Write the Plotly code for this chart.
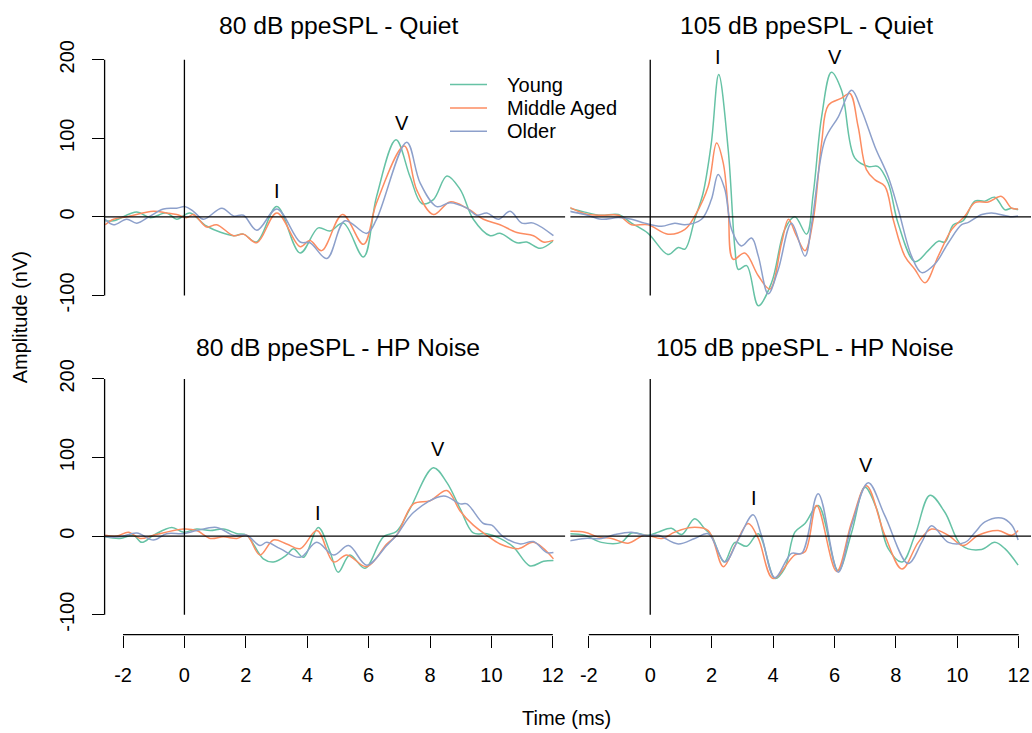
import plotly.graph_objects as go

# ---------------- data ----------------
groups = ["Young", "Middle Aged", "Older"]
colors = ["#66C2A5", "#FC8D62", "#8DA0CB"]
panel_titles = ["80 dB ppeSPL - Quiet", "105 dB ppeSPL - Quiet",
                "80 dB ppeSPL - HP Noise", "105 dB ppeSPL - HP Noise"]
x_ticks = [-2, 0, 2, 4, 6, 8, 10, 12]
x_tick_labels = ["-2", "0", "2", "4", "6", "8", "10", "12"]
y_ticks = [-100, 0, 100, 200]
y_tick_labels = ["-100", "0", "100", "200"]

# Panel 1: 80 dB Quiet
q80_young_t = [-2.58,-2.31,-1.55,-1.12,-0.58,-0.25,0.18,0.73,1.6,1.92,2.35,3.01,3.77,4.36,4.74,5.18,5.83,6.26,6.89,7.35,7.73,8.11,8.55,8.98,9.41,9.96,10.28,10.83,11.15,11.59,12.0]
q80_young_v = [-5,-5,6,-1,5,-3,5,-12,-24,-22,-32,13,-46,-14,-18,-8,-51,26,98,51,17,22,52,35,-3,-24,-21,-33,-32,-40,-31]
q80_middle_t = [-2.58,-2.31,-1.88,-1.01,-0.58,-0.25,0.08,0.29,0.73,1.05,1.6,1.92,2.36,3.01,3.77,4.09,4.47,5.15,5.83,6.26,7.16,7.57,8.11,8.65,9.2,9.74,10.28,10.83,11.37,11.69,12.02]
q80_middle_v = [-10,-3,0,7,5,3,-1,3,-13,-10,-24,-22,-33,5,-38,-30,-43,3,-35,18,90,34,3,19,11,-3,-10,-20,-24,-32,-30]
q80_older_t = [-2.58,-2.31,-1.88,-1.55,-1.12,-0.68,-0.25,0.02,0.29,0.62,1.22,1.6,1.92,2.36,3.01,3.77,4.09,4.64,5.23,5.94,6.26,7.24,7.68,8.22,8.65,9.2,9.52,9.85,10.23,10.61,10.99,11.37,12.02]
q80_older_v = [-3,-10,-3,-8,1,10,11,13,7,-3,11,1,2,-17,10,-32,-33,-53,-5,-21,-3,95,43,13,18,11,2,5,-3,7,-8,-8,-24]

# Panel 2: 105 dB Quiet
q105_young_t = [-2.62,-2.13,-1.59,-1.04,-0.61,-0.07,0.58,0.91,1.13,1.45,1.72,1.99,2.23,2.54,2.76,2.87,3.14,3.52,3.95,4.38,4.71,5.09,5.31,5.58,5.9,6.23,6.66,7.1,7.42,7.75,8.07,8.62,9.05,9.38,9.6,9.87,10.19,10.57,10.9,11.22,11.55,11.77,11.98]
q105_young_v = [11,6,2,3,-8,-21,-48,-39,-41,-3,30,94,181,85,-41,-67,-62,-113,-84,-16,0,-22,30,127,184,161,75,64,64,43,-8,-57,-43,-31,-32,-10,-5,20,20,25,9,11,9]
q105_middle_t = [-2.62,-2.13,-1.59,-1.04,-0.61,-0.07,0.58,1.13,1.45,1.89,2.16,2.38,2.54,2.70,3.08,3.52,3.9,4.28,4.5,4.76,5.04,5.31,5.58,5.8,6.23,6.5,6.77,7.04,7.32,7.64,7.91,8.29,8.62,8.95,9.38,9.82,10.25,10.57,11.01,11.44,11.77,11.98]
q105_middle_v = [12,4,2,2,-10,-10,-22,-16,1,39,94,68,9,-54,-46,-75,-92,-33,-3,-24,-43,-3,94,142,151,157,115,60,47,39,-3,-50,-67,-84,-50,-16,1,18,19,26,11,10]
q105_older_t = [-2.62,-2.13,-1.59,-1.04,-0.61,-0.18,0.37,0.8,1.13,1.67,1.99,2.21,2.43,2.65,2.97,3.3,3.52,3.84,4.17,4.6,5.04,5.26,5.69,6.12,6.56,6.88,7.32,7.75,8.08,8.51,8.84,9.27,9.71,10.14,10.36,10.8,11.12,11.77,11.98]
q105_older_v = [7,3,-3,-1,-3,-8,-12,-8,-10,-3,22,54,35,-16,-37,-27,-50,-98,-67,-8,-50,-8,98,127,161,136,89,51,9,-50,-71,-60,-33,-10,-7,3,5,0,1]

# Panel 3: 80 dB HP Noise
hp80_young_t = [-2.58,-2.1,-1.66,-1.39,-1.01,-0.41,-0.03,0.4,0.84,1.27,1.71,2.03,2.57,2.9,3.33,3.55,3.88,4.36,4.74,5.01,5.39,5.88,6.48,6.91,7.35,8.11,8.55,8.98,9.41,9.85,10.28,10.72,11.26,11.7,12.02]
hp80_young_v = [-1,-3,1,-8,1,11,5,9,7,9,3,1,-29,-33,-24,-16,-27,11,-20,-46,-24,-41,-1,6,35,87,68,35,4,3,-3,-14,-38,-32,-31]
hp80_middle_t = [-2.58,-2.2,-1.82,-1.44,-1.01,-0.03,0.4,0.84,1.27,1.71,2.03,2.46,2.9,3.33,3.77,4.32,4.86,5.29,5.94,6.59,6.91,7.46,8.0,8.55,8.98,9.41,9.85,10.28,10.88,11.37,12.02]
hp80_middle_v = [1,0,5,-3,1,9,7,-3,-1,-3,1,-24,-5,-10,-16,7,-33,-24,-39,-10,1,41,45,58,32,14,1,-10,-16,-8,-29]
hp80_older_t = [-2.58,-2.1,-1.55,-1.01,-0.58,-0.03,0.4,1.05,1.6,2.03,2.46,2.68,3.12,3.77,4.31,4.86,5.35,5.94,6.59,6.91,7.46,8.44,8.98,9.2,9.74,10.01,10.39,10.94,11.37,11.8,12.02]
hp80_older_v = [-1,-1,4,-5,3,3,7,11,1,1,-12,-8,-16,-27,-8,-24,-12,-37,-12,1,30,51,41,41,16,14,-1,-10,-7,-21,-21]

# Panel 4: 105 dB HP Noise
hp105_young_t = [-2.62,-2.13,-1.59,-0.94,-0.61,-0.07,0.26,0.69,1.02,1.45,1.78,1.99,2.41,2.76,3.14,3.52,4.06,4.38,4.71,5.04,5.47,6.12,6.56,6.99,7.37,7.75,8.2,8.62,9.11,9.6,10.14,10.79,11.22,11.55,11.98]
hp105_young_v = [3,1,-8,-8,4,1,5,10,2,22,9,1,-33,-8,-13,3,-54,-41,5,16,39,-44,5,62,35,-16,-33,1,52,30,-12,-17,-8,-16,-37]
hp105_middle_t = [-2.62,-2.13,-1.7,-1.26,-0.72,-0.18,0.37,0.8,1.34,1.89,2.38,2.76,3.19,3.52,4.0,4.71,5.04,5.42,6.07,6.56,7.04,7.64,8.2,8.73,9.16,9.71,10.19,10.68,11.33,11.77,11.98]
hp105_middle_v = [6,5,-1,-3,-9,1,-3,5,11,7,-39,-12,16,-3,-54,-24,-20,39,-45,18,64,1,-42,-8,9,1,-12,1,7,1,7]
hp105_older_t = [-2.62,-2.13,-1.59,-1.15,-0.61,-0.18,0.26,0.91,1.45,1.89,2.43,2.86,3.35,3.62,4.06,4.6,4.93,5.47,6.12,6.56,7.1,7.64,8.4,8.84,9.16,9.71,10.25,10.58,10.9,11.44,11.77,11.98]
hp105_older_v = [-6,-3,-3,2,5,1,1,-10,-3,3,-33,-5,27,1,-53,-22,-22,54,-46,14,68,26,-35,-8,13,-8,-8,5,18,23,14,-5]

# Wave labels (I, V) per panel: times and amplitudes of the text
label_text = ["I", "V"]
label_t = [[3.0, 7.09], [2.2, 6.01], [4.36, 8.25], [3.37, 7.02]]
label_v = [[33, 120], [203, 203], [30, 111], [49, 91]]

panels = [
    [(q80_young_t, q80_young_v), (q80_middle_t, q80_middle_v), (q80_older_t, q80_older_v)],
    [(q105_young_t, q105_young_v), (q105_middle_t, q105_middle_v), (q105_older_t, q105_older_v)],
    [(hp80_young_t, hp80_young_v), (hp80_middle_t, hp80_middle_v), (hp80_older_t, hp80_older_v)],
    [(hp105_young_t, hp105_young_v), (hp105_middle_t, hp105_middle_v), (hp105_older_t, hp105_older_v)],
]

# ---------------- layout geometry ----------------
W, H = 1032, 733
FONT = "Liberation Sans, Arial, Helvetica, sans-serif"
BASE = 20

def px(x):
    return x / W

def py(y):
    return 1 - y / H

x_dom = [[px(104.6), px(565.1)], [px(570.4), px(1031.0)]]
y_dom = [[py(310), py(40)], [py(634), py(360)]]
y_rng = [[-121.5, 220.25], [-125.3, 221.5]]
x_rng = [-2.6, 12.4]

fig = go.Figure()
shapes = []
annotations = []

for p in range(4):
    row, col = divmod(p, 2)
    n = p + 1
    xa = "x" if n == 1 else f"x{n}"
    ya = "y" if n == 1 else f"y{n}"
    for g in range(3):
        t, v = panels[p][g]
        fig.add_trace(go.Scatter(
            x=t, y=v, mode="lines", name=groups[g],
            line=dict(color=colors[g], width=1.5, shape="spline", smoothing=1.0),
            xaxis=xa, yaxis=ya, showlegend=False, hoverinfo="skip"))

    xkey = "xaxis" if n == 1 else f"xaxis{n}"
    ykey = "yaxis" if n == 1 else f"yaxis{n}"
    bottom = row == 1
    left = col == 0
    fig.update_layout(**{
        xkey: dict(domain=x_dom[col], range=x_rng, anchor=ya,
                   showgrid=False, zeroline=False, showline=False,
                   ticks="outside" if bottom else "", ticklen=12, tickwidth=1.3,
                   tickcolor="black",
                   tickvals=x_ticks if bottom else [],
                   ticktext=x_tick_labels if bottom else [],
                   showticklabels=bottom, ticklabelstandoff=10,
                   tickfont=dict(family=FONT, size=BASE, color="black")),
        ykey: dict(domain=y_dom[row], range=y_rng[row], anchor=xa,
                   showgrid=False, zeroline=False, showline=False,
                   ticks="outside" if left else "", ticklen=12, tickwidth=1.3,
                   tickcolor="black",
                   tickvals=y_ticks if left else [],
                   ticktext=y_tick_labels if left else [],
                   showticklabels=left, tickangle=-90, ticklabelstandoff=10,
                   tickfont=dict(family=FONT, size=BASE, color="black")),
    })

    line = dict(color="black", width=1.3)
    shapes.append(dict(type="line", xref=f"{xa} domain", yref=ya,
                       x0=0, x1=1, y0=0, y1=0, line=line, layer="above"))
    shapes.append(dict(type="line", xref=xa, yref=ya,
                       x0=0, x1=0, y0=y_ticks[0], y1=y_ticks[-1], line=line))
    if left:
        shapes.append(dict(type="line", xref=f"{xa} domain", yref=ya,
                           x0=0, x1=0, y0=y_ticks[0], y1=y_ticks[-1], line=line))
    if bottom:
        shapes.append(dict(type="line", xref=xa, yref=f"{ya} domain",
                           x0=x_ticks[0], x1=x_ticks[-1], y0=0, y1=0, line=line))

    for k in range(2):
        annotations.append(dict(x=label_t[p][k], y=label_v[p][k], xref=xa, yref=ya,
                                text=label_text[k], showarrow=False,
                                font=dict(family=FONT, size=BASE, color="black")))

# panel titles
title_xy = [(338, 22), (806, 22), (338, 345), (805, 345)]
for p in range(4):
    annotations.append(dict(x=px(title_xy[p][0]), y=py(title_xy[p][1]),
                            xref="paper", yref="paper", text=panel_titles[p],
                            showarrow=False, xanchor="center", yanchor="middle",
                            font=dict(family=FONT, size=24.7, color="black")))

# axis titles
annotations.append(dict(x=px(20), y=py(315), xref="paper", yref="paper",
                        text="Amplitude (nV)", textangle=-90, showarrow=False,
                        xanchor="center", yanchor="middle",
                        font=dict(family=FONT, size=BASE, color="black")))
annotations.append(dict(x=px(566), y=py(718), xref="paper", yref="paper",
                        text="Time (ms)", showarrow=False,
                        xanchor="center", yanchor="middle",
                        font=dict(family=FONT, size=BASE, color="black")))

# legend (drawn in the top-left panel, R style)
leg_x0, leg_x1, leg_tx = 450, 487, 505
leg_y = [81, 104.5, 128]
for g in range(3):
    shapes.append(dict(type="line", xref="paper", yref="paper",
                       x0=px(leg_x0), x1=px(leg_x1), y0=py(leg_y[g]), y1=py(leg_y[g]),
                       line=dict(color=colors[g], width=1.6)))
    annotations.append(dict(x=px(leg_tx), y=py(leg_y[g]), xref="paper", yref="paper",
                            text=groups[g], showarrow=False,
                            xanchor="left", yanchor="middle",
                            font=dict(family=FONT, size=BASE, color="black")))

fig.update_layout(
    width=W, height=H, autosize=False,
    margin=dict(l=0, r=0, t=0, b=0),
    paper_bgcolor="white", plot_bgcolor="rgba(0,0,0,0)",
    shapes=shapes, annotations=annotations,
    font=dict(family=FONT, size=BASE, color="black"),
    showlegend=False,
)

fig.write_html("out.html", config={"displayModeBar": False},
               post_script="document.body.style.margin='0';document.body.style.padding='0';")
